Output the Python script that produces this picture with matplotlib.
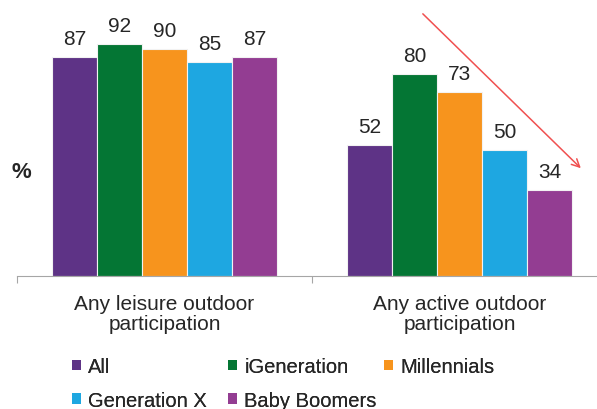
import numpy as np
import matplotlib.pyplot as plt
from matplotlib.patches import Patch

categories = ["Any leisure outdoor\nparticipation", "Any active outdoor\nparticipation"]
groups = ["All", "iGeneration", "Millennials", "Generation X", "Baby Boomers"]
values = {
    "All": [87, 52],
    "iGeneration": [92, 80],
    "Millennials": [90, 73],
    "Generation X": [85, 50],
    "Baby Boomers": [87, 34],
}
colors = ["#5E3386", "#047634", "#F7941D", "#1EA7E1", "#933D92"]

plt.rcParams["font.family"] = ["Liberation Sans", "DejaVu Sans"]

fig = plt.figure(figsize=(5.97, 4.10), dpi=100)
ax = fig.add_axes([17/597, 133/410, 590/597, 252/410])

x = np.arange(len(categories))
w = 0.1525
for i, g in enumerate(groups):
    pos = x + (i - 2) * w
    bars = ax.bar(pos, values[g], width=w, color=colors[i], edgecolor="#f2f2f2", linewidth=0.8)
    for b, v in zip(bars, values[g]):
        ax.annotate(str(v), (b.get_x() + b.get_width()/2, v), xytext=(0, 6.5),
                    textcoords="offset points", ha="center", va="bottom",
                    fontsize=15, color="#262626")

ax.set_xlim(-0.5, 1.5)
ax.set_ylim(0, 100)
for s in ["top", "right", "left"]:
    ax.spines[s].set_visible(False)
ax.spines["bottom"].set_color("#a6a6a6")
ax.set_yticks([])
ax.set_xticks([-0.5, 0.5, 1.5])
ax.set_xticklabels([])
ax.tick_params(axis="x", length=5, color="#a6a6a6")
for xi, c in zip(x, categories):
    ax.text(xi, -7.3, c, ha="center", va="top", fontsize=15, color="#262626",
            linespacing=1.05, transform=ax.transData)

fig.text(11/597, 1 - 173/410, "%", fontsize=16, fontweight="bold", color="#262626", va="center")

ax.annotate("", xy=(1.418, 42.0), xytext=(0.869, 104.8),
            arrowprops=dict(arrowstyle="->", color="#f05050", lw=1.1, mutation_scale=14),
            annotation_clip=False)

# legend: three fixed-position columns, like the Excel original
handles = [Patch(facecolor=c, label=g) for c, g in zip(colors, groups)]
columns = [[0, 3], [1, 4], [2]]
col_x = [58, 214, 370]
for cx, col in zip(col_x, columns):
    leg = fig.legend([handles[k] for k in col], [groups[k] for k in col],
                     loc="upper left", bbox_to_anchor=(cx/597, 1 - 344/410),
                     frameon=False, fontsize=14.5, handlelength=0.45,
                     handleheight=0.45, handletextpad=0.35, labelspacing=0.72,
                     labelcolor="#262626", borderpad=0.2)
    fig.add_artist(leg)

fig.savefig("out.png", dpi=100)
